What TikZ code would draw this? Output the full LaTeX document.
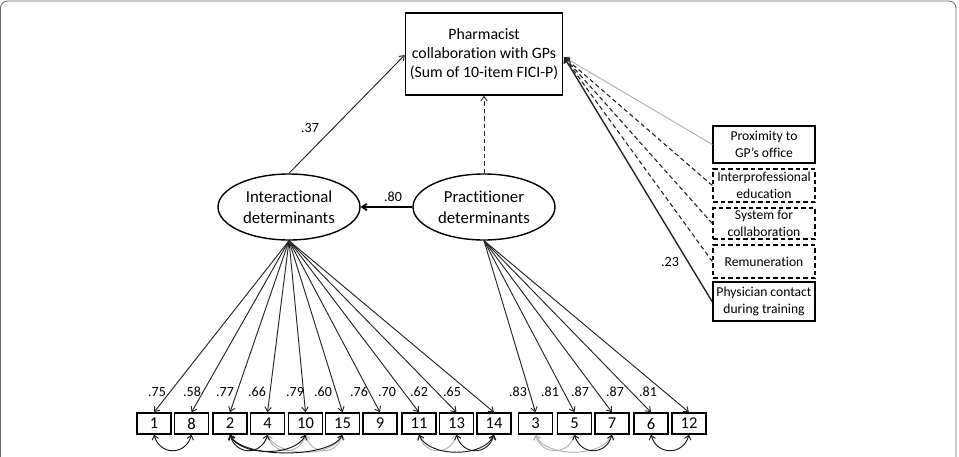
\documentclass[tikz,border=0pt]{standalone}
\usepackage{fontspec}
\setmainfont{Carlito}[Ligatures=NoCommon]
\usetikzlibrary{arrows.meta,shapes.geometric}
\begin{document}
\begin{tikzpicture}[x=1pt,y=-1pt,
  tip/.style={-{Straight Barb[length=4.5pt,width=6.5pt]}},
  bitip/.style={{Straight Barb[length=4pt,width=6.5pt]}-{Straight Barb[length=4pt,width=6.5pt]}},
  link/.style={tip, line width=0.95pt, draw=black!85},
  cov/.style={bitip, line width=0.95pt, draw=black!90},
  gcov/.style={bitip, line width=0.95pt, draw=black!30},
  dsh/.style={dash pattern=on 4.5pt off 3pt},
  item/.style={draw, line width=1.4pt, minimum width=34pt, minimum height=21pt, inner sep=0pt, font=\fontsize{16.5}{18}\selectfont},
  rbox/.style={draw, line width=1.3pt, minimum width=102pt, inner sep=0pt, align=center, font=\fontsize{13.6}{16.5}\selectfont},
  lat/.style={ellipse, draw, line width=1.4pt, minimum width=142pt, minimum height=66pt, inner sep=0pt, align=center, font=\fontsize{16.8}{21}\selectfont},
  lbl/.style={font=\fontsize{14}{15}\selectfont, inner sep=0pt}
]
\useasboundingbox (0,0) rectangle (959,456);
\draw[black!60, line width=0.8pt, rounded corners=7pt] (0.5,1) rectangle (956,475);

% outcome
\node[draw, line width=1.5pt, minimum width=157pt, minimum height=82pt, inner sep=0pt, align=center,
  font=\fontsize{15.8}{19}\selectfont] (out) at (484,54) {Pharmacist\\collaboration with GPs\\(Sum of 10-item FICI-P)};
\coordinate (conv) at (564,57);

% latent
\node[lat] (inter) at (289,207) {Interactional\\determinants};
\node[lat] (prac) at (484,207) {Practitioner\\determinants};

\draw[link] (inter.north) -- (out.west |- 0,55);
\node[lbl] (l37) at (310,128) {.37};
\draw[link, dsh] (prac.north) -- (out.south);
\draw[tip, line width=2pt] (prac.west) -- (inter.east);
\node[lbl] (l80) at (393,197) {.80};

% right boxes
\node[rbox, minimum height=37pt] (prox) at (764,144.5) {Proximity to\\GP’s office};
\node[rbox, dsh, minimum height=33pt] (ipe) at (764,185.5) {Interprofessional\\education};
\node[rbox, dsh, minimum height=31pt] (sys) at (764,223.5) {System for\\collaboration};
\node[rbox, dsh, minimum height=33pt] (rem) at (764,261.5) {Remuneration};
\node[rbox, line width=1.9pt, minimum height=39pt] (phy) at (764,301.5) {Physician contact\\during training};

\draw[link, draw=black!30] (prox.west) -- (conv);
\draw[link, dsh, line width=1.1pt] (ipe.west) -- (conv);
\draw[link, dsh, line width=1.1pt] (sys.west) -- (conv);
\draw[link, dsh, line width=1.1pt] (rem.west) -- (conv);
\draw[link, line width=1.4pt] (phy.west) -- (conv);
\node[lbl] (l23) at (670,262) {.23};

% items
\node[item] (b1) at (154,423.5) {1};
\node[item] (b8) at (191.5,423.5) {8};
\node[item] (b2) at (230,423.5) {2};
\node[item] (b4) at (267.5,423.5) {4};
\node[item] (b10) at (305.5,423.5) {10};
\node[item] (b15) at (342.5,423.5) {15};
\node[item] (b9) at (380,423.5) {9};
\node[item] (b11) at (419,423.5) {11};
\node[item] (b13) at (456.5,423.5) {13};
\node[item] (b14) at (494,423.5) {14};
\node[item] (b3) at (535.5,423.5) {3};
\node[item] (b5) at (574.5,423.5) {5};
\node[item] (b7) at (612,423.5) {7};
\node[item] (b6) at (651,423.5) {6};
\node[item] (b12) at (689,423.5) {12};

\foreach \b in {b1,b8,b2,b4,b10,b15,b9,b11,b13,b14}
  \draw[link] (inter.south) -- (\b.north);
\foreach \b in {b3,b5,b7,b6,b12}
  \draw[link] (prac.south) -- (\b.north);

% loadings
\node[lbl] (k1) at (157,392) {.75};
\node[lbl] (k8) at (192,392) {.58};
\node[lbl] (k2) at (225,392) {.77};
\node[lbl] (k4) at (257,392) {.66};
\node[lbl] (k10) at (295,392) {.79};
\node[lbl] (k15) at (323,392) {.60};
\node[lbl] (k9) at (359,392) {.76};
\node[lbl] (k11) at (387,392) {.70};
\node[lbl] (k13) at (419,392) {.62};
\node[lbl] (k14) at (452,392) {.65};
\node[lbl] (k3) at (518,392) {.83};
\node[lbl] (k5) at (550,392) {.81};
\node[lbl] (k7) at (580,392) {.87};
\node[lbl] (k6) at (615,392) {.87};
\node[lbl] (k12) at (648,392) {.81};

% covariances
\draw[cov] (b1.south) .. controls +(6,21) and +(-6,21) .. (b8.south);
\draw[gcov] (b4.south) .. controls +(6,21) and +(-6,21) .. (b10.south);
\draw[gcov] (b10.south) .. controls +(6,21) and +(-6,21) .. (b15.south);
\draw[gcov] (b4.south) .. controls +(10,23) and +(-10,23) .. (b15.south);
\draw[cov] (b2.south) .. controls +(6,21) and +(-6,21) .. (b4.south);
\draw[cov] (b2.south) .. controls +(10,22) and +(-10,22) .. (b10.south);
\draw[cov] (b2.south) .. controls +(12,24) and +(-12,24) .. (b15.south);
\draw[gcov] (b11.south) .. controls +(6,21) and +(-6,21) .. (b13.south);
\draw[cov] (b13.south) .. controls +(6,21) and +(-6,21) .. (b14.south);
\draw[cov] (b11.south) .. controls +(10,23) and +(-10,23) .. (b14.south);
\draw[gcov] (b3.south) .. controls +(6,21) and +(-6,21) .. (b5.south);
\draw[gcov] (b3.south) .. controls +(10,23) and +(-10,23) .. (b7.south);
\draw[cov] (b5.south) .. controls +(6,21) and +(-6,21) .. (b7.south);
\draw[cov] (b6.south) .. controls +(6,21) and +(-6,21) .. (b12.south);
\end{tikzpicture}
\end{document}
